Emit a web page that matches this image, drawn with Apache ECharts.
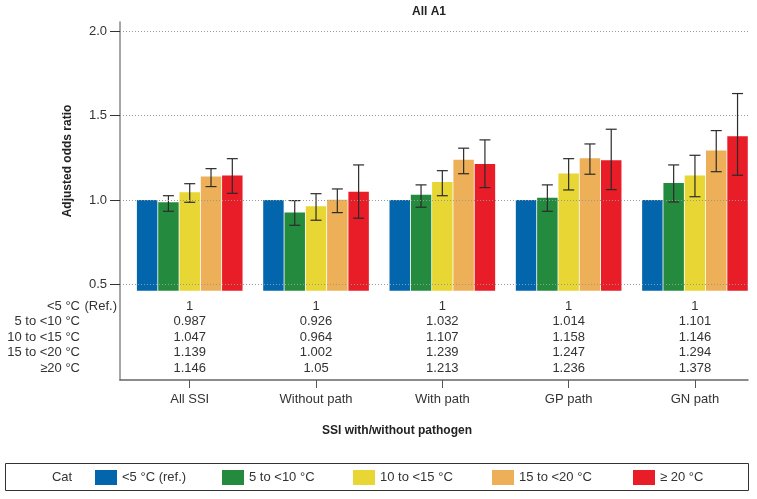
<!DOCTYPE html>
<html>
<head>
<meta charset="utf-8">
<script src="https://cdn.jsdelivr.net/npm/echarts@6/dist/echarts.min.js"></script>
<style>html,body{margin:0;padding:0;background:#fff}#c{width:757px;height:499px}</style>
</head>
<body>
<div id="c"></div>
<script>
// ---- data ----
const categories = ['All SSI', 'Without path', 'With path', 'GP path', 'GN path'];
const tempNames = ['<5 °C (ref.)', '5 to <10 °C', '10 to <15 °C', '15 to <20 °C', '≥ 20 °C'];
const rowLabels = ['<5 °C', '5 to <10 °C', '10 to <15 °C', '15 to <20 °C', '≥20 °C'];
const or_lt5   = [1, 1, 1, 1, 1];
const or_5_10  = [0.987, 0.926, 1.032, 1.014, 1.101];
const or_10_15 = [1.047, 0.964, 1.107, 1.158, 1.146];
const or_15_20 = [1.139, 1.002, 1.239, 1.247, 1.294];
const or_ge20  = [1.146, 1.05, 1.213, 1.236, 1.378];
const lo_5_10  = [0.934, 0.851, 0.958, 0.934, 0.989];
const hi_5_10  = [1.026, 0.997, 1.090, 1.090, 1.208];
const lo_10_15 = [0.987, 0.881, 1.026, 1.060, 1.020];
const hi_10_15 = [1.097, 1.038, 1.174, 1.245, 1.265];
const lo_15_20 = [1.080, 0.926, 1.156, 1.153, 1.168];
const hi_15_20 = [1.186, 1.066, 1.307, 1.332, 1.411];
const lo_ge20  = [1.040, 0.893, 1.074, 1.062, 1.147];
const hi_ge20  = [1.245, 1.208, 1.356, 1.419, 1.630];
const yTicks = [0.5, 1.0, 1.5, 2.0];

const seriesVals = [or_lt5, or_5_10, or_10_15, or_15_20, or_ge20];
const seriesLo = [null, lo_5_10, lo_10_15, lo_15_20, lo_ge20];
const seriesHi = [null, hi_5_10, hi_10_15, hi_15_20, hi_ge20];
const colors = ['#0365ab', '#248a3e', '#e7d633', '#eeaf59', '#e81d27'];
const FONT = "'Liberation Sans Narrow', 'Arial Narrow', 'Liberation Sans', Arial, sans-serif";
const BASE = 0.4645;
const legendLeft = [95, 222, 353, 492, 633];

const chart = echarts.init(document.getElementById('c'));

function makeSeries(k) {
  const vals = seriesVals[k];
  const data = categories.map((c, i) => [i, vals[i],
    seriesLo[k] ? seriesLo[k][i] : NaN, seriesHi[k] ? seriesHi[k][i] : NaN]);
  return {
    type: 'custom',
    name: tempNames[k],
    z: 3,
    itemStyle: { color: colors[k] },
    data: data,
    encode: { x: 0, y: 1 },
    renderItem: function (params, api) {
      const ci = api.value(0), v = api.value(1), lo = api.value(2), hi = api.value(3);
      const bandW = api.size([1, 0])[0];
      const pitch = bandW * 0.1686, w = bandW * 0.162;
      const p = api.coord([ci, v]);
      const cx = p[0] + (k - 2) * pitch;
      const base = api.coord([ci, BASE])[1];
      const children = [{
        type: 'rect',
        shape: { x: cx - w / 2, y: p[1], width: w, height: base - p[1] },
        style: { fill: colors[k] }
      }];
      if (!isNaN(lo) && !isNaN(hi)) {
        const yl = api.coord([ci, lo])[1], yh = api.coord([ci, hi])[1];
        const cap = 5.5;
        const ls = { stroke: '#2b2b2b', lineWidth: 1.2 };
        children.push({ type: 'line', shape: { x1: cx, y1: yl, x2: cx, y2: yh }, style: ls });
        children.push({ type: 'line', shape: { x1: cx - cap, y1: yh, x2: cx + cap, y2: yh }, style: ls });
        children.push({ type: 'line', shape: { x1: cx - cap, y1: yl, x2: cx + cap, y2: yl }, style: ls });
      }
      children.push({
        type: 'text',
        style: {
          text: String(v), x: p[0], y: api.coord([ci, 0.5])[1] + 21.5 + k * 15.5,
          align: 'center', verticalAlign: 'middle',
          fill: '#333', font: '13px ' + FONT
        }
      });
      return { type: 'group', children: children };
    }
  };
}

const series = [0, 1, 2, 3, 4].map(makeSeries);
series.unshift({
  type: 'line', data: [], z: 1, silent: true,
  markLine: {
    symbol: 'none', silent: true, animation: false,
    label: { show: false },
    lineStyle: { type: [1, 2], color: '#999', width: 1 },
    data: yTicks.map(t => ({ yAxis: t }))
  }
});

const graphics = [
  { type: 'text', left: 412, top: 6, style: { text: 'All A1', font: 'bold 12px ' + FONT, fill: '#222' } },
  { type: 'text', x: 68, y: 161, rotation: Math.PI / 2,
    style: { text: 'Adjusted odds ratio', font: 'bold 12px ' + FONT, fill: '#222', align: 'center', verticalAlign: 'middle' } },
  { type: 'text', x: 397, y: 431,
    style: { text: 'SSI with/without pathogen', font: 'bold 12px ' + FONT, fill: '#222', align: 'center', verticalAlign: 'middle' } },
  { type: 'text', x: 117, y: 306,
    style: { text: '(Ref.)', font: '13px ' + FONT, fill: '#333', align: 'right', verticalAlign: 'middle' } },
  { type: 'rect', shape: { x: 5.5, y: 463.5, width: 743, height: 27 }, style: { fill: 'none', stroke: '#333', lineWidth: 1 } },
  { type: 'text', x: 62, y: 477,
    style: { text: 'Cat', font: '13px ' + FONT, fill: '#333', align: 'center', verticalAlign: 'middle' } }
];
rowLabels.forEach((t, k) => {
  graphics.push({ type: 'text', x: 80, y: 306 + k * 15.5,
    style: { text: t, font: '13px ' + FONT, fill: '#333', align: 'right', verticalAlign: 'middle' } });
});

chart.setOption({
  animation: false,
  grid: { left: 120, right: 9, top: 22, bottom: 119 },
  xAxis: {
    type: 'value', min: -0.552, max: 4.42,
    axisLine: { onZero: false, lineStyle: { color: '#666', width: 1.5 } },
    axisTick: { customValues: [0, 1, 2, 3, 4], length: 8, lineStyle: { color: '#555' } },
    axisLabel: { customValues: [0, 1, 2, 3, 4], formatter: v => categories[Math.round(v)],
      margin: 13, color: '#333', fontSize: 13, fontFamily: FONT },
    splitLine: { show: false }
  },
  yAxis: {
    type: 'value', min: -0.0636, max: 2.053,
    axisLine: { show: true, onZero: false, lineStyle: { color: '#888', width: 1.5 } },
    axisTick: { show: true, customValues: yTicks, length: 10, lineStyle: { color: '#333' } },
    axisLabel: { customValues: yTicks, formatter: v => v.toFixed(1), margin: 13,
      color: '#333', fontSize: 13, fontFamily: FONT },
    splitLine: { show: false }
  },
  legend: tempNames.map((n, k) => ({
    data: [n], left: legendLeft[k], top: 470, padding: 0,
    itemWidth: 22, itemHeight: 15, itemGap: 7, icon: 'rect',
    textStyle: { fontSize: 13, color: '#333', fontFamily: FONT }, selectedMode: false
  })),
  graphic: graphics,
  series: series
});
</script>
</body>
</html>
